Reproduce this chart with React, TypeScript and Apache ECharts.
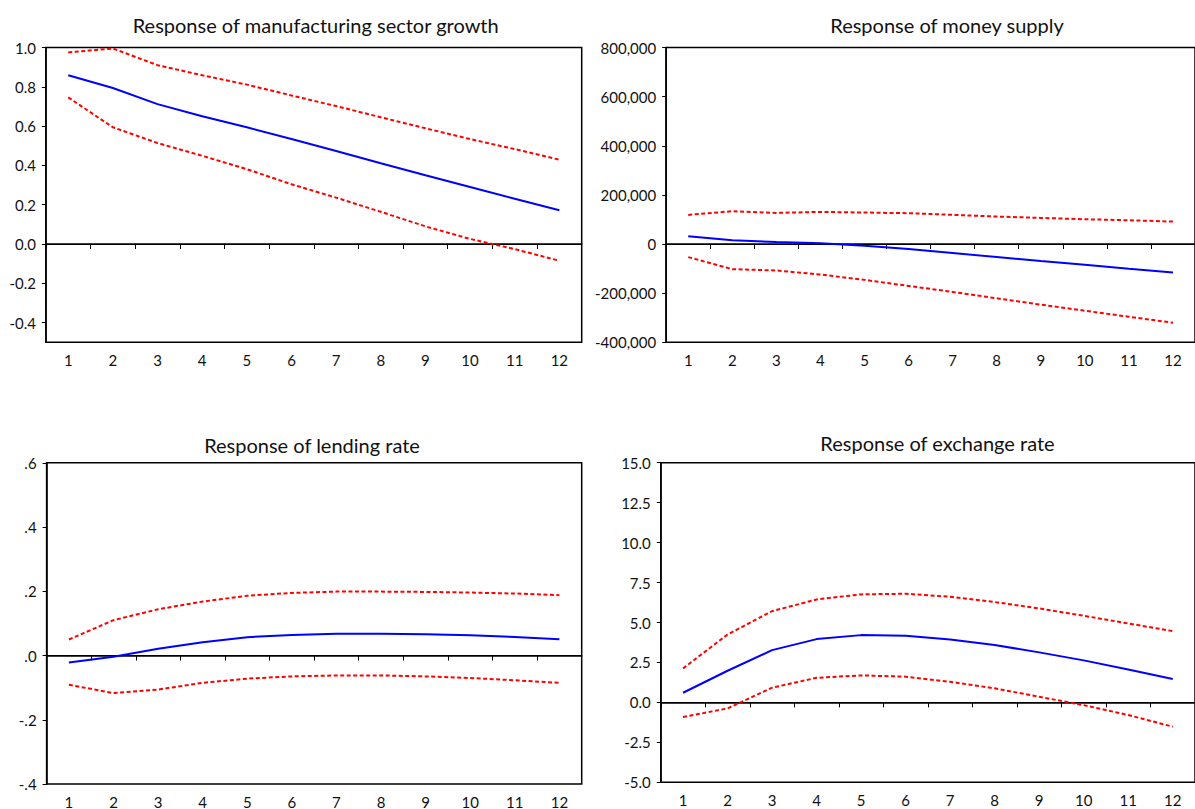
import React, { useEffect, useRef } from "react";
import * as echarts from "echarts";

const periods = ["1", "2", "3", "4", "5", "6", "7", "8", "9", "10", "11", "12"];

// Response of manufacturing sector growth
const mfgResponse = [0.859, 0.794, 0.712, 0.65, 0.594, 0.534, 0.473, 0.411, 0.35, 0.29, 0.23, 0.172];
const mfgUpper = [0.975, 0.995, 0.91, 0.859, 0.811, 0.756, 0.702, 0.645, 0.589, 0.534, 0.483, 0.429];
const mfgLower = [0.746, 0.594, 0.514, 0.449, 0.381, 0.304, 0.236, 0.164, 0.09, 0.026, -0.026, -0.085];
const mfgTicks = [-0.4, -0.2, 0, 0.2, 0.4, 0.6, 0.8, 1.0];

// Response of money supply
const moneyResponse = [31400, 15000, 8200, 2700, -6800, -20500, -36800, -53200, -69500, -84500, -100900, -115900];
const moneyUpper = [118600, 133600, 126800, 130900, 128200, 125500, 118600, 111800, 106400, 100900, 96800, 91400];
const moneyLower = [-53200, -102300, -107700, -124100, -145900, -170500, -195000, -220900, -246800, -271400, -295900, -320500];

// Response of lending rate
const lendResponse = [-0.0216, -0.004, 0.021, 0.041, 0.057, 0.064, 0.068, 0.068, 0.066, 0.063, 0.058, 0.051];
const lendUpper = [0.05, 0.11, 0.144, 0.168, 0.186, 0.195, 0.199, 0.199, 0.198, 0.196, 0.193, 0.188];
const lendLower = [-0.091, -0.117, -0.106, -0.085, -0.072, -0.065, -0.062, -0.062, -0.065, -0.07, -0.077, -0.085];

// Response of exchange rate
const fxResponse = [0.605, 1.98, 3.27, 3.96, 4.21, 4.17, 3.94, 3.59, 3.13, 2.63, 2.06, 1.46];
const fxUpper = [2.13, 4.25, 5.71, 6.44, 6.76, 6.8, 6.61, 6.28, 5.88, 5.42, 4.94, 4.46];
const fxLower = [-0.92, -0.375, 0.92, 1.54, 1.69, 1.61, 1.29, 0.88, 0.35, -0.17, -0.79, -1.52];

const titles = [
  "Response of manufacturing sector growth",
  "Response of money supply",
  "Response of lending rate",
  "Response of exchange rate",
];

const FONT = "Lato, 'Open Sans', sans-serif";
const TEXT = "#111";

export default function App() {
  const ref = useRef<HTMLDivElement>(null);

  useEffect(() => {
    if (!ref.current) return;
    const chart = echarts.init(ref.current, null, { renderer: "svg" });

    const grids = [
      { left: 45.9, top: 47.5, width: 535.8, height: 294.8 },
      { left: 666.2, top: 47.5, width: 533, height: 294.8 },
      { left: 46.6, top: 462.8, width: 535.1, height: 324.9 },
      { left: 660.8, top: 462.7, width: 546, height: 319.6 },
    ].map((g) => ({
      ...g,
      show: true,
      borderColor: "#000",
      borderWidth: 1.5,
      backgroundColor: "transparent",
      containLabel: false,
    }));

    const titleCenters = [
      { x: 315.7, y: 15 },
      { x: 947, y: 15 },
      { x: 312, y: 435 },
      { x: 937.5, y: 433 },
    ];

    const xAxes = [0, 1, 2, 3].map((i) => ({
      type: "category",
      gridIndex: i,
      data: periods,
      boundaryGap: true,
      axisLine: { show: true, lineStyle: { color: "#000", width: 1.5 } },
      axisTick: { show: true, length: 5, lineStyle: { color: "#000", width: 1 } },
      axisLabel: { color: TEXT, fontFamily: FONT, fontSize: 15, margin: 10 },
      splitLine: { show: false },
    }));

    const yBase = (i: number) => ({
      type: "value",
      gridIndex: i,
      axisLine: { show: true, lineStyle: { color: "#000", width: 1.5 } },
      axisTick: { show: true, length: 4, lineStyle: { color: "#000", width: 1 } },
      splitLine: { show: false },
    });

    const labelStyle = { color: TEXT, fontFamily: FONT, fontSize: 15, margin: 10 };

    const yAxes = [
      {
        ...yBase(0),
        min: -0.5,
        max: 1.0,
        axisTick: { show: true, length: 4, lineStyle: { color: "#000", width: 1 }, customValues: mfgTicks },
        axisLabel: {
          ...labelStyle,
          customValues: mfgTicks,
          formatter: (v: number) => v.toFixed(1),
        },
      },
      {
        ...yBase(1),
        min: -400000,
        max: 800000,
        interval: 200000,
        axisLabel: {
          ...labelStyle,
          formatter: (v: number) => Math.round(v).toLocaleString("en-US"),
        },
      },
      {
        ...yBase(2),
        min: -0.4,
        max: 0.6,
        interval: 0.2,
        axisLabel: {
          ...labelStyle,
          formatter: (v: number) => v.toFixed(1).replace(/^(-?)0\./, "$1."),
        },
      },
      {
        ...yBase(3),
        min: -5,
        max: 15,
        interval: 2.5,
        axisLabel: {
          ...labelStyle,
          formatter: (v: number) => v.toFixed(1),
        },
      },
    ];

    const panels = [
      [mfgResponse, mfgUpper, mfgLower],
      [moneyResponse, moneyUpper, moneyLower],
      [lendResponse, lendUpper, lendLower],
      [fxResponse, fxUpper, fxLower],
    ];

    const series: any[] = [];
    panels.forEach(([resp, upper, lower], i) => {
      series.push({
        type: "line",
        name: "Response " + (i + 1),
        xAxisIndex: i,
        yAxisIndex: i,
        data: resp,
        symbol: "none",
        lineStyle: { color: "#0000ff", width: 2 },
        z: 3,
        markLine: {
          silent: true,
          symbol: ["none", "none"],
          label: { show: false },
          lineStyle: { color: "#000", width: 1, type: "solid" },
          data: [{ yAxis: 0 }],
          z: 1,
        },
      });
      [upper, lower].forEach((band, k) => {
        series.push({
          type: "line",
          name: (k === 0 ? "Upper " : "Lower ") + (i + 1),
          xAxisIndex: i,
          yAxisIndex: i,
          data: band,
          symbol: "none",
          lineStyle: { color: "#ff0000", width: 2, type: [4, 2.5] },
          z: 2,
        });
      });
    });

    chart.setOption({
      animation: false,
      backgroundColor: "#fff",
      title: titles.map((t, i) => ({
        text: t,
        left: titleCenters[i].x,
        top: titleCenters[i].y,
        textAlign: "center",
        padding: 0,
        textStyle: { color: TEXT, fontFamily: FONT, fontSize: 20, fontWeight: "normal" },
      })),
      grid: grids,
      xAxis: xAxes,
      yAxis: yAxes,
      series,
    });

    return () => chart.dispose();
  }, []);

  return (
    <div
      ref={ref}
      style={{ position: "fixed", left: 0, top: 0, width: 1195, height: 809, background: "#fff" }}
    />
  );
}
